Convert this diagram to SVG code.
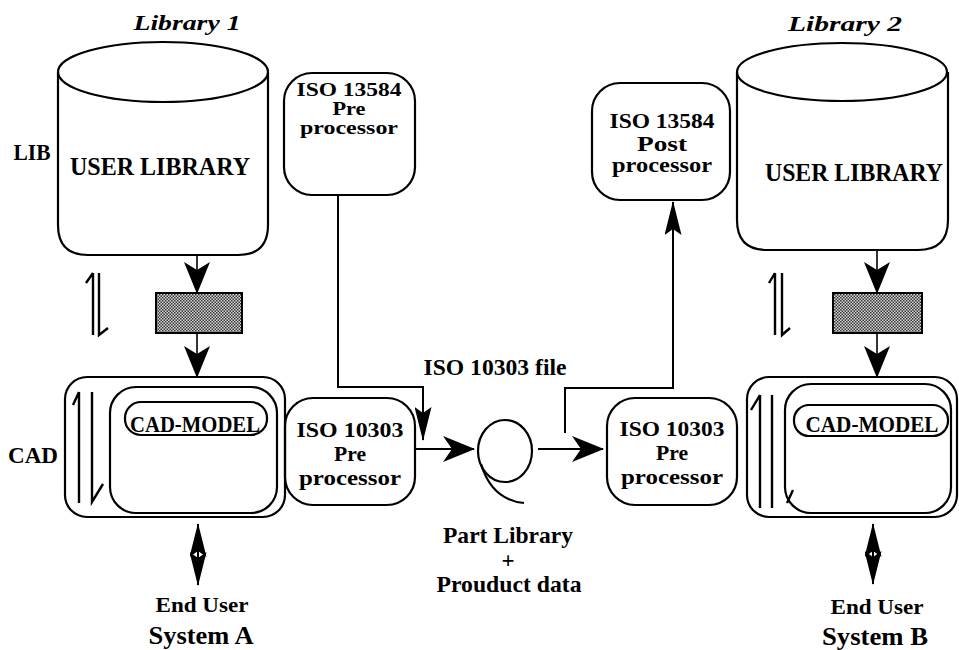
<svg xmlns="http://www.w3.org/2000/svg" width="959" height="650" viewBox="0 0 959 650">
<style>
text{font-family:"Liberation Serif","Times New Roman",serif;font-weight:bold;fill:#000;text-anchor:middle}
.t19{font-size:19px}
.t20{font-size:20px}
.t22{font-size:22px}
.t23{font-size:23px}
.t25{font-size:25px}
.t26{font-size:26px}
.it{font-style:italic;font-size:22px}
.sh{fill:none;stroke:#000;stroke-width:2.2}
.ln{fill:none;stroke:#000;stroke-width:2}
.hp{fill:none;stroke:#000;stroke-width:2.4}
.thin{fill:none;stroke:#000;stroke-width:1.6}
</style>
<defs>
<pattern id="dots" width="3" height="3" patternUnits="userSpaceOnUse">
<rect width="3" height="3" fill="#d8d8d8"/>
<rect width="1.5" height="1.5" fill="#333"/>
<rect x="1.5" y="1.5" width="1.5" height="1.5" fill="#333"/>
</pattern>
<marker id="big" viewBox="0 0 32 26" refX="31" refY="13" markerWidth="32" markerHeight="26" orient="auto-start-reverse" markerUnits="userSpaceOnUse">
<path d="M0,0 L32,13 L0,26 L9,13 Z" fill="#000"/>
</marker>
<marker id="barb" viewBox="0 0 32 26" refX="31" refY="13" markerWidth="32" markerHeight="26" orient="auto-start-reverse" markerUnits="userSpaceOnUse">
<path d="M0,0 L32,13 L0,26 L8,13 Z" fill="#000"/>
</marker>
<marker id="slim" viewBox="0 0 34 17" refX="33" refY="8.5" markerWidth="34" markerHeight="17" orient="auto-start-reverse" markerUnits="userSpaceOnUse">
<path d="M0,0 L34,8.5 L0,17 L6,8.5 Z" fill="#000"/>
</marker>
</defs>

<text class="it" x="187" y="30" textLength="107" lengthAdjust="spacingAndGlyphs">Library  1</text>
<text class="it" x="845" y="31" textLength="114" lengthAdjust="spacingAndGlyphs">Library  2</text>
<text class="t23" x="32" y="160" textLength="37" lengthAdjust="spacingAndGlyphs">LIB</text>
<text class="t23" x="33" y="463" textLength="50" lengthAdjust="spacingAndGlyphs">CAD</text>

<g id="userlib1">
<path class="sh" d="M58,72 L58,225 Q58,255 88,255 L238,255 Q268,255 268,225 L268,72"/>
<ellipse class="sh" cx="163" cy="72" rx="105" ry="30" fill="#fff"/>
<text class="t25" x="160" y="175" textLength="180" lengthAdjust="spacingAndGlyphs">USER LIBRARY</text>
</g>

<g id="userlib2">
<path class="sh" d="M737,72 L737,220 Q737,250 767,250 L918,250 Q948,250 948,220 L948,72"/>
<ellipse class="sh" cx="842" cy="72" rx="105" ry="29" fill="#fff"/>
<text class="t25" x="854" y="181" textLength="178" lengthAdjust="spacingAndGlyphs">USER LIBRARY</text>
</g>

<g id="filter1"><rect x="156" y="293" width="86" height="40" fill="url(#dots)" stroke="#000" stroke-width="2"/></g>
<g id="filter2"><rect x="833" y="293" width="89" height="40" fill="url(#dots)" stroke="#000" stroke-width="2"/></g>

<g id="cad1">
<rect class="sh" x="65" y="377" width="220" height="140" rx="22"/>
<rect class="sh" x="110" y="387" width="167" height="126" rx="26"/>
<rect class="sh" x="125" y="402" width="142" height="33" rx="16"/>
<text class="t23" x="195" y="432" textLength="130" lengthAdjust="spacingAndGlyphs">CAD-MODEL</text>
<path class="hp" d="M79,392 L79,503 M79,392 L73,405 M92,392 L92,502 L103,484"/>
</g>

<g id="cad2">
<rect class="sh" x="747" y="377" width="210" height="140" rx="22"/>
<rect class="sh" x="785" y="384" width="166" height="129" rx="26"/>
<rect class="sh" x="794" y="405" width="154" height="31" rx="15"/>
<text class="t23" x="872" y="432" textLength="133" lengthAdjust="spacingAndGlyphs">CAD-MODEL</text>
<path class="hp" d="M760,395 L760,508 M760,395 L751,410 M772,395 L772,508 M787,503 L793,490"/>
</g>

<g id="iso13584pre">
<rect class="sh" x="284" y="73" width="131" height="122" rx="28"/>
<text class="t19" x="349" y="96" textLength="105" lengthAdjust="spacingAndGlyphs">ISO 13584</text>
<text class="t19" x="349" y="115" textLength="33" lengthAdjust="spacingAndGlyphs">Pre</text>
<text class="t19" x="349" y="134" textLength="98" lengthAdjust="spacingAndGlyphs">processor</text>
</g>

<g id="iso13584post">
<rect class="sh" x="592" y="83" width="138" height="117" rx="28"/>
<text class="t20" x="662" y="128" textLength="105" lengthAdjust="spacingAndGlyphs">ISO 13584</text>
<text class="t20" x="662" y="151" textLength="50" lengthAdjust="spacingAndGlyphs">Post</text>
<text class="t20" x="662" y="172" textLength="100" lengthAdjust="spacingAndGlyphs">processor</text>
</g>

<g id="iso10303pre1">
<rect class="sh" x="285" y="398" width="130" height="107" rx="28"/>
<text class="t22" x="350" y="437" textLength="107" lengthAdjust="spacingAndGlyphs">ISO 10303</text>
<text class="t22" x="350" y="461" textLength="32" lengthAdjust="spacingAndGlyphs">Pre</text>
<text class="t22" x="350" y="485" textLength="102" lengthAdjust="spacingAndGlyphs">processor</text>
</g>

<g id="iso10303pre2">
<rect class="sh" x="607" y="398" width="130" height="107" rx="28"/>
<text class="t22" x="672" y="436" textLength="105" lengthAdjust="spacingAndGlyphs">ISO 10303</text>
<text class="t22" x="672" y="460" textLength="32" lengthAdjust="spacingAndGlyphs">Pre</text>
<text class="t22" x="672" y="484" textLength="102" lengthAdjust="spacingAndGlyphs">processor</text>
</g>

<g id="file">
<ellipse class="sh" cx="505" cy="451" rx="27" ry="31"/>
<path class="sh" d="M481,464 Q492,500 524,503"/>
<text class="t23" x="495" y="375" textLength="143" lengthAdjust="spacingAndGlyphs">ISO 10303 file</text>
<text class="t23" x="508" y="543" textLength="130" lengthAdjust="spacingAndGlyphs">Part Library</text>
<text class="t23" x="508" y="568">+</text>
<text class="t23" x="509" y="592" textLength="145" lengthAdjust="spacingAndGlyphs">Prouduct data</text>
</g>

<g id="harpoons">
<path class="hp" d="M93,273 L93,335 M93,273 L86,283 M99,273 L99,335 L108,328"/>
<path class="hp" d="M775,273 L775,335 M775,273 L769,283 M782,273 L782,335 L790,328"/>
</g>

<g id="labels">
<text class="t22" x="202" y="612" textLength="93" lengthAdjust="spacingAndGlyphs">End User</text>
<text class="t26" x="201" y="644" textLength="105" lengthAdjust="spacingAndGlyphs">System A</text>
<text class="t22" x="877" y="614" textLength="93" lengthAdjust="spacingAndGlyphs">End User</text>
<text class="t26" x="875" y="645" textLength="106" lengthAdjust="spacingAndGlyphs">System B</text>
</g>

<g id="connectors">
<line class="thin" x1="197" y1="256" x2="197" y2="293" marker-end="url(#barb)"/>
<line class="thin" x1="197" y1="334" x2="197" y2="377" marker-end="url(#barb)"/>
<line class="thin" x1="877" y1="251" x2="877" y2="293" marker-end="url(#barb)"/>
<line class="thin" x1="877" y1="334" x2="877" y2="377" marker-end="url(#barb)"/>
<line class="ln" x1="198" y1="524" x2="198" y2="585" marker-start="url(#slim)" marker-end="url(#slim)"/>
<line class="ln" x1="873" y1="524" x2="873" y2="584" marker-start="url(#slim)" marker-end="url(#slim)"/>
<path class="ln" d="M338,195 L338,387 L423,387 L423,440" marker-end="url(#slim)"/>
<line class="ln" x1="415" y1="449" x2="474" y2="449" marker-end="url(#big)"/>
<line class="ln" x1="538" y1="449" x2="603" y2="449" marker-end="url(#big)"/>
<path class="ln" d="M565,433 L565,388 L673,388 L673,202" marker-end="url(#slim)"/>
</g>
</svg>
